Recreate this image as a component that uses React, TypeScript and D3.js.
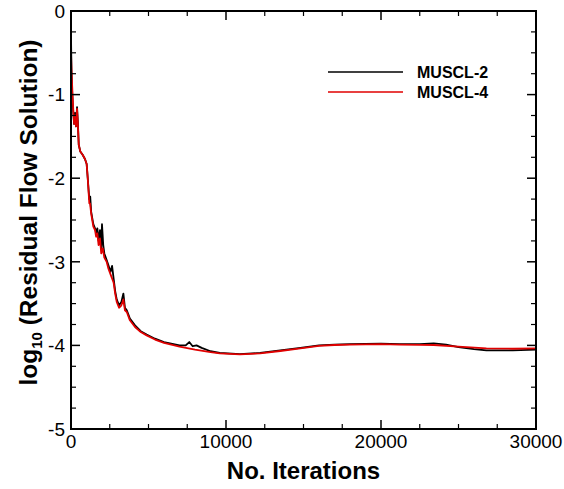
import React from "react";
import * as d3 from "d3";

const iterM2 = [0, 30, 80, 150, 200, 260, 320, 390, 440, 500, 600, 750, 900, 1010, 1080, 1180, 1240, 1300, 1440, 1550, 1620, 1700, 1780, 1870, 1950, 2000, 2080, 2150, 2300, 2410, 2550, 2650, 2750, 2850, 2950, 3100, 3250, 3380, 3480, 3600, 3800, 4130, 4500, 4880, 5420, 6000, 7000, 7400, 7630, 7850, 8100, 8430, 9000, 9600, 10900, 12200, 13500, 14800, 16000, 17000, 18000, 20000, 21200, 22500, 23400, 24200, 25000, 26000, 26800, 28500, 30000];
const resM2 = [-0.3, -0.7, -1.0, -1.22, -1.35, -1.22, -1.38, -1.15, -1.32, -1.6, -1.68, -1.72, -1.77, -1.83, -2.0, -2.25, -2.22, -2.4, -2.55, -2.6, -2.65, -2.6, -2.75, -2.62, -2.85, -2.55, -2.8, -2.9, -2.98, -3.04, -3.12, -3.05, -3.2, -3.35, -3.45, -3.52, -3.48, -3.38, -3.55, -3.58, -3.68, -3.76, -3.83, -3.87, -3.92, -3.96, -4.0, -4.0, -3.96, -4.01, -4.0, -4.03, -4.07, -4.09, -4.105, -4.09, -4.06, -4.03, -4.0, -3.99, -3.985, -3.98, -3.985, -3.985, -3.975, -3.99, -4.02, -4.045, -4.06, -4.06, -4.05];

const iterM4 = [0, 40, 100, 150, 200, 260, 320, 390, 430, 500, 600, 750, 900, 1010, 1080, 1180, 1230, 1300, 1440, 1550, 1620, 1700, 1780, 1870, 1950, 2050, 2150, 2300, 2410, 2550, 2650, 2750, 2850, 2950, 3100, 3250, 3380, 3480, 3600, 3800, 4130, 4500, 4880, 5420, 6000, 7000, 8000, 9000, 9600, 10900, 12200, 13500, 14800, 16000, 17000, 18000, 20000, 21200, 22500, 23400, 25000, 26800, 28500, 30000];
const resM4 = [-0.5, -0.75, -1.0, -1.2, -1.35, -1.25, -1.38, -1.17, -1.3, -1.6, -1.68, -1.72, -1.77, -1.83, -2.0, -2.3, -2.3, -2.42, -2.58, -2.62, -2.7, -2.66, -2.8, -2.72, -2.9, -2.84, -2.95, -3.0, -3.08, -3.15, -3.2, -3.25, -3.38, -3.48, -3.55, -3.52, -3.45, -3.58, -3.6, -3.7, -3.78, -3.84, -3.88, -3.93, -3.97, -4.015, -4.05, -4.08, -4.095, -4.107, -4.095, -4.067, -4.035, -4.005, -3.995, -3.99, -3.985, -3.99, -3.993, -3.995, -4.015, -4.035, -4.04, -4.035];

const seriesNames = ["MUSCL-2", "MUSCL-4"];
const seriesColors = ["#000000", "#e00000"];
const xMajorTicks = [0, 10000, 20000, 30000];
const yMajorTicks = [0, -1, -2, -3, -4, -5];

export default function App() {
  const W = 564, H = 489;
  const L = 71, R = 536, T = 11, B = 429;
  const x = d3.scaleLinear().domain([0, 30000]).range([L, R]);
  const y = d3.scaleLinear().domain([-5, 0]).range([B, T]);
  const line = d3.line<[number, number]>().x(d => x(d[0])).y(d => y(d[1]));
  const dM2 = line(iterM2.map((v, i) => [v, resM2[i]] as [number, number]))!;
  const dM4 = line(iterM4.map((v, i) => [v, resM4[i]] as [number, number]))!;
  const xMinor = d3.range(0, 30001, 2500).filter(v => v % 10000 !== 0);
  const yMinor = d3.range(-5, 0.001, 0.25).filter(v => Math.abs(v - Math.round(v)) > 1e-6);
  const font = "'Liberation Sans', Arial, Helvetica, sans-serif";
  const maj = 9, min = 5;
  return (
    <svg width={W} height={H} style={{ position: "absolute", left: 0, top: 0, background: "#fff" }} fontFamily={font}>
      <defs>
        <clipPath id="plotclip"><rect x={L} y={T} width={R - L} height={B - T} /></clipPath>
      </defs>
      <g clipPath="url(#plotclip)" fill="none" strokeLinejoin="round">
        <path d={dM2} stroke={seriesColors[0]} strokeWidth={1.8} />
        <path d={dM4} stroke={seriesColors[1]} strokeWidth={1.8} />
      </g>
      <g stroke="#000">
        {xMajorTicks.map(v => (
          <g key={"xm" + v}>
            <line x1={x(v)} x2={x(v)} y1={B} y2={B - maj} strokeWidth={1.5} />
            <line x1={x(v)} x2={x(v)} y1={T} y2={T + maj} strokeWidth={1.5} />
          </g>
        ))}
        {xMinor.map(v => (
          <g key={"xn" + v}>
            <line x1={x(v)} x2={x(v)} y1={B} y2={B - min} strokeWidth={1.2} />
            <line x1={x(v)} x2={x(v)} y1={T} y2={T + min} strokeWidth={1.2} />
          </g>
        ))}
        {yMajorTicks.map(v => (
          <g key={"ym" + v}>
            <line x1={L} x2={L + maj} y1={y(v)} y2={y(v)} strokeWidth={1.5} />
            <line x1={R} x2={R - maj} y1={y(v)} y2={y(v)} strokeWidth={1.5} />
          </g>
        ))}
        {yMinor.map(v => (
          <g key={"yn" + v}>
            <line x1={L} x2={L + min} y1={y(v)} y2={y(v)} strokeWidth={1.2} />
            <line x1={R} x2={R - min} y1={y(v)} y2={y(v)} strokeWidth={1.2} />
          </g>
        ))}
        <rect x={L} y={T} width={R - L} height={B - T} fill="none" strokeWidth={2} />
      </g>
      <g fontSize={19} fill="#000">
        {xMajorTicks.map(v => (
          <text key={"xl" + v} x={x(v)} y={448} textAnchor="middle">{v}</text>
        ))}
        {yMajorTicks.map(v => (
          <text key={"yl" + v} x={65} y={y(v)} dy="0.36em" textAnchor="end">{v === 0 ? "0" : "-" + Math.abs(v)}</text>
        ))}
      </g>
      <text x={(L + R) / 2} y={479} textAnchor="middle" fontSize={24} fontWeight="bold">No. Iterations</text>
      <text transform={`translate(36.5, 212.5) rotate(-90)`} textAnchor="middle" fontSize={24.5} fontWeight="bold">
        log<tspan fontSize={15} dy={5}>10</tspan><tspan dy={-5}> (Residual Flow Solution)</tspan>
      </text>
      {seriesNames.map((n, i) => (
        <g key={n}>
          <line x1={328} x2={403} y1={72 + i * 20} y2={72 + i * 20} stroke={seriesColors[i]} strokeWidth={1.5} />
          <text x={417} y={78 + i * 20} fontSize={16} fontWeight="bold">{n}</text>
        </g>
      ))}
    </svg>
  );
}
